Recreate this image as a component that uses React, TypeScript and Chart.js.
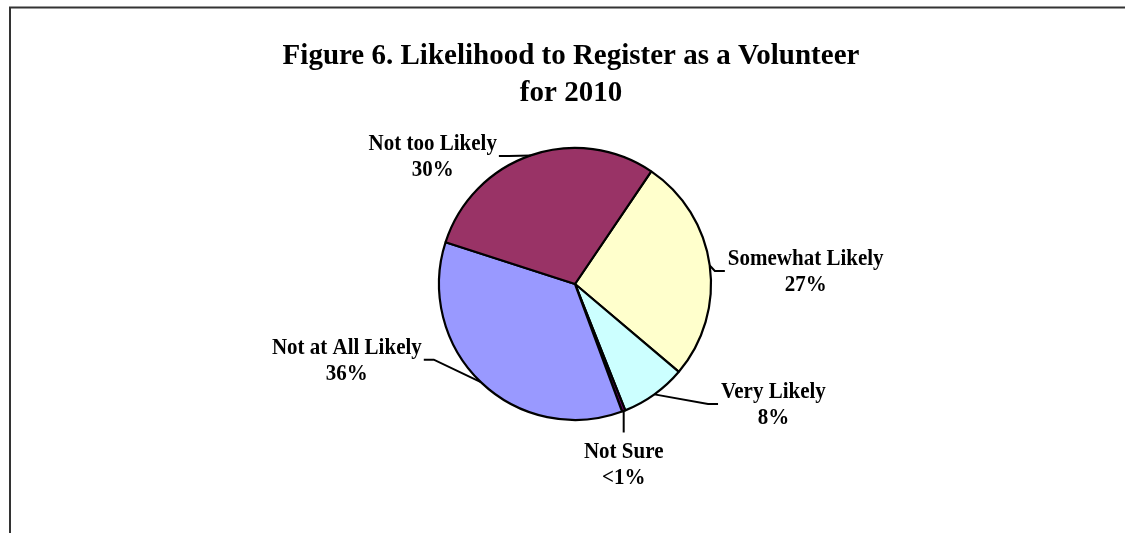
import React, { useEffect, useRef } from "react";
import { Chart, registerables } from "chart.js";

Chart.register(...registerables);

// ---- Data (clockwise from the slice that starts at ~34° past 12 o'clock) ----
const categories = [
  "Somewhat Likely",
  "Very Likely",
  "Not Sure",
  "Not at All Likely",
  "Not too Likely",
];
const values = [26.7, 7.8, 0.4, 35.6, 29.5];
const percentLabels = ["27%", "8%", "<1%", "36%", "30%"];
const titleLines = ["Figure 6. Likelihood to Register as a Volunteer", "for 2010"];
const sliceColors = ["#FFFFCC", "#CCFFFF", "#660066", "#9999FF", "#993366"];

// ---- Label placement relative to each slice's mid-edge point (layout only) ----
const labelPlacement = [
  { dx: 96, dy: 0, side: "right" },
  { dx: 119, dy: 4, side: "right" },
  { dx: 0, dy: 47, side: "below" },
  { dx: -134, dy: -28, side: "left" },
  { dx: -98, dy: -5, side: "left" },
];

const FONT = '"Liberation Serif", "Times New Roman", serif';

function drawText(ctx: any, text: string, x: number, y: number, sy: number) {
  ctx.save();
  ctx.translate(x, y);
  ctx.scale(1, sy);
  ctx.fillText(text, 0, 0);
  ctx.restore();
}

const decorPlugin = {
  id: "decor",
  beforeDraw(chart: any) {
    const ctx = chart.ctx;
    ctx.save();
    // frame (top + left)
    ctx.strokeStyle = "#333333";
    ctx.lineWidth = 2;
    ctx.beginPath();
    ctx.moveTo(10, 533);
    ctx.lineTo(10, 7.5);
    ctx.lineTo(1125, 7.5);
    ctx.stroke();
    // title
    ctx.fillStyle = "#000";
    ctx.font = `bold 29px ${FONT}`;
    ctx.textAlign = "center";
    ctx.textBaseline = "alphabetic";
    drawText(ctx, titleLines[0], 571, 64, 1.04);
    drawText(ctx, titleLines[1], 571, 101, 1.04);
    ctx.restore();
  },
  afterDraw(chart: any) {
    const ctx = chart.ctx;
    const meta = chart.getDatasetMeta(0);
    ctx.save();
    ctx.font = `bold 21px ${FONT}`;
    ctx.textAlign = "center";
    ctx.textBaseline = "alphabetic";
    ctx.fillStyle = "#000";
    ctx.strokeStyle = "#000";
    ctx.lineWidth = 2;
    meta.data.forEach((arc: any, i: number) => {
      const { x, y, startAngle, endAngle, outerRadius } = arc.getProps(
        ["x", "y", "startAngle", "endAngle", "outerRadius"],
        true
      );
      const mid = (startAngle + endAngle) / 2;
      const ax = x + Math.cos(mid) * outerRadius;
      const ay = y + Math.sin(mid) * outerRadius;
      const p = labelPlacement[i];
      const cx = ax + p.dx;
      const by = ay + p.dy;
      drawText(ctx, categories[i], cx, by, 1.1);
      drawText(ctx, percentLabels[i], cx, by + 26, 1.1);
      const w = ctx.measureText(categories[i]).width;
      ctx.beginPath();
      ctx.moveTo(ax, ay);
      if (p.side === "right") {
        const attachX = cx - w / 2 - 3;
        ctx.lineTo(attachX - 10, by + 5.5);
        ctx.lineTo(attachX, by + 5.5);
      } else if (p.side === "left") {
        const attachX = cx + w / 2 + 2;
        ctx.lineTo(attachX + 10, by + 5.5);
        ctx.lineTo(attachX, by + 5.5);
      } else {
        ctx.lineTo(ax, by - 25.5);
      }
      ctx.stroke();
    });
    ctx.restore();
  },
};

export default function App() {
  const canvasRef = useRef<HTMLCanvasElement | null>(null);

  useEffect(() => {
    document.body.style.margin = "0";
    const canvas = canvasRef.current;
    if (!canvas) return;
    const chart = new Chart(canvas, {
      type: "pie",
      data: {
        labels: categories,
        datasets: [
          {
            data: values,
            backgroundColor: sliceColors,
            borderColor: "#000000",
            borderWidth: 2.2,
          },
        ],
      },
      options: {
        responsive: false,
        animation: false,
        rotation: 34.1,
        radius: 136,
        layout: { padding: { left: 400, right: 375, top: 140, bottom: 105 } },
        plugins: {
          legend: { display: false },
          title: { display: false },
          tooltip: { enabled: false },
        },
      },
      plugins: [decorPlugin],
    });
    return () => chart.destroy();
  }, []);

  return (
    <div style={{ width: 1125, height: 533, background: "#fff" }}>
      <canvas ref={canvasRef} width={1125} height={533} style={{ display: "block" }} />
    </div>
  );
}
